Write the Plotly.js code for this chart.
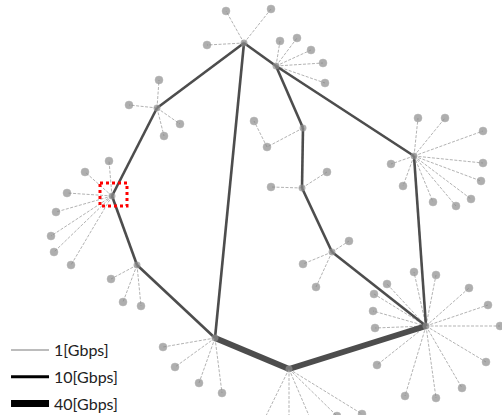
<!DOCTYPE html>
<html><head><meta charset="utf-8">
<script src="https://cdn.plot.ly/plotly-3.0.1.min.js"></script>
<style>html,body{margin:0;padding:0;background:#fff;overflow:hidden}#chart{width:502px;height:421px}</style>
</head><body><div id="chart"></div>
<script>
// Node positions (network layout, in picture coordinates)
const nodeId = ['A','B','C','D','E','F','G','H','I','J','K','L',
  'a1','a2','a3',
  'b1','b2','b3','b4','b5',
  'c1','c2','c3','c4',
  'd1','d2','d3','d4','d5','d6','d7',
  'e1','e2','e3',
  'f1','f2','f3','f4',
  'g1','g2','g3','g4','g5',
  'h1','h2','h3','h4','h5','h6','h7','h8','h9','h10','h11','h12','h13','h14',
  'i1','i2','i3','i4','i5','i6','i7','i8','i9','i10',
  'j1','j2',
  'k1','k2',
  'l1','l2','l3'];
const nodeX = [244,276,157,112,137,215,289,426,414,303,302,332,
  226,207,271,
  280,297,311,323,325,
  159,129,180,164,
  109,85,67,56,51,54,71,
  111,123,141,
  163,175,199,222,
  262,289,313,337,362,
  414,436,387,374,469,488,373,375,500,377,486,462,405,436,
  418,445,483,391,483,481,403,471,433,456,
  267,254,
  271,327,
  349,303,316];
const nodeY = [43,66,108,196,265,338,369,326,156,128,188,252,
  11,45,9,
  41,38,50,63,83,
  80,105,124,136,
  161,172,193,212,236,252,265,
  279,302,306,
  347,367,383,393,
  424,428,425,416,414,
  272,275,284,294,288,305,311,328,326,365,362,388,396,398,
  118,118,131,164,163,181,186,199,202,206,
  147,121,
  187,172,
  241,264,287];
const hubIds = ['A','B','C','D','E','F','G','H','I','J','K','L'];
const highlightId = 'D';

// Links and their capacity [Gbps]
const edgeFrom = ['A','C','D','E','A','A','B','B','J','K','L','I','F','G',
  'A','A','A','B','B','B','B','B','C','C','C','C',
  'D','D','D','D','D','D','D','E','E','E','F','F','F','F',
  'G','G','G','G','G',
  'H','H','H','H','H','H','H','H','H','H','H','H','H','H',
  'I','I','I','I','I','I','I','I','I','I',
  'J','j1','K','K','L','L','L'];
const edgeTo = ['C','D','E','F','F','B','I','J','K','L','H','H','G','H',
  'a1','a2','a3','b1','b2','b3','b4','b5','c1','c2','c3','c4',
  'd1','d2','d3','d4','d5','d6','d7','e1','e2','e3','f1','f2','f3','f4',
  'g1','g2','g3','g4','g5',
  'h1','h2','h3','h4','h5','h6','h7','h8','h9','h10','h11','h12','h13','h14',
  'i1','i2','i3','i4','i5','i6','i7','i8','i9','i10',
  'j1','j2','k1','k2','l1','l2','l3'];
const edgeGbps = [10,10,10,10,10,10,10,10,10,10,10,10,40,40,
  1,1,1,1,1,1,1,1,1,1,1,1,
  1,1,1,1,1,1,1,1,1,1,1,1,1,1,
  1,1,1,1,1,
  1,1,1,1,1,1,1,1,1,1,1,1,1,1,
  1,1,1,1,1,1,1,1,1,1,
  1,1,1,1,1,1,1];
const rateLabels = ['1[Gbps]','10[Gbps]','40[Gbps]'];
const rates = [1,10,40];

const idx = {}; nodeId.forEach((n,i)=>idx[n]=i);
const lineStyle = {1:{color:'#b3b3b3',width:1,dash:'3px,1.5px'},10:{color:'#4d4d4d',width:2.6},40:{color:'#4d4d4d',width:6}};
const legendStyle = {1:{color:'#a6a6a6',width:1.5},10:{color:'#000',width:3},40:{color:'#000',width:7}};

const traces = [];
rates.forEach((r,k)=>{
  const xs=[], ys=[];
  edgeGbps.forEach((g,i)=>{
    if(g!==r) return;
    const a=idx[edgeFrom[i]], b=idx[edgeTo[i]];
    xs.push(nodeX[a],nodeX[b],null); ys.push(nodeY[a],nodeY[b],null);
  });
  traces.push({type:'scatter',mode:'lines',x:xs,y:ys,line:lineStyle[r],hoverinfo:'skip',showlegend:false,cliponaxis:true});
});
// legend keys
rates.forEach((r,k)=>{
  traces.push({type:'scatter',mode:'lines',x:[null],y:[null],name:rateLabels[k],line:legendStyle[r],legendgroup:'g'+k,showlegend:true});
});
// nodes
const isHub = nodeId.map(n=>hubIds.includes(n));
traces.push({type:'scatter',mode:'markers',x:nodeX,y:nodeY,text:nodeId,hoverinfo:'text',showlegend:false,
  marker:{color:'#8c8c8c',size:isHub.map(h=>h?6.5:8),line:{color:'#9a9a9a',width:0.5}}});

const hx = nodeX[idx[highlightId]], hy = nodeY[idx[highlightId]];
const layout = {
  width:502,height:421,margin:{l:0,r:0,t:0,b:0},
  paper_bgcolor:'#fff',plot_bgcolor:'#fff',
  xaxis:{range:[0,502],visible:false,fixedrange:true},
  yaxis:{range:[421,0],visible:false,fixedrange:true},
  showlegend:true,
  legend:{x:0.012,y:0,xanchor:'left',yanchor:'bottom',bgcolor:'rgba(0,0,0,0)',
    font:{family:'Lato, Calibri, sans-serif',size:16,color:'#222'},tracegroupgap:3,itemwidth:38},
  shapes:[{type:'rect',xref:'x',yref:'y',x0:hx-12,x1:hx+15,y0:hy-13,y1:hy+10,
    line:{color:'#ff0000',width:3,dash:'dot'}}]
};
Plotly.newPlot('chart',traces,layout,{staticPlot:true});
</script></body></html>
